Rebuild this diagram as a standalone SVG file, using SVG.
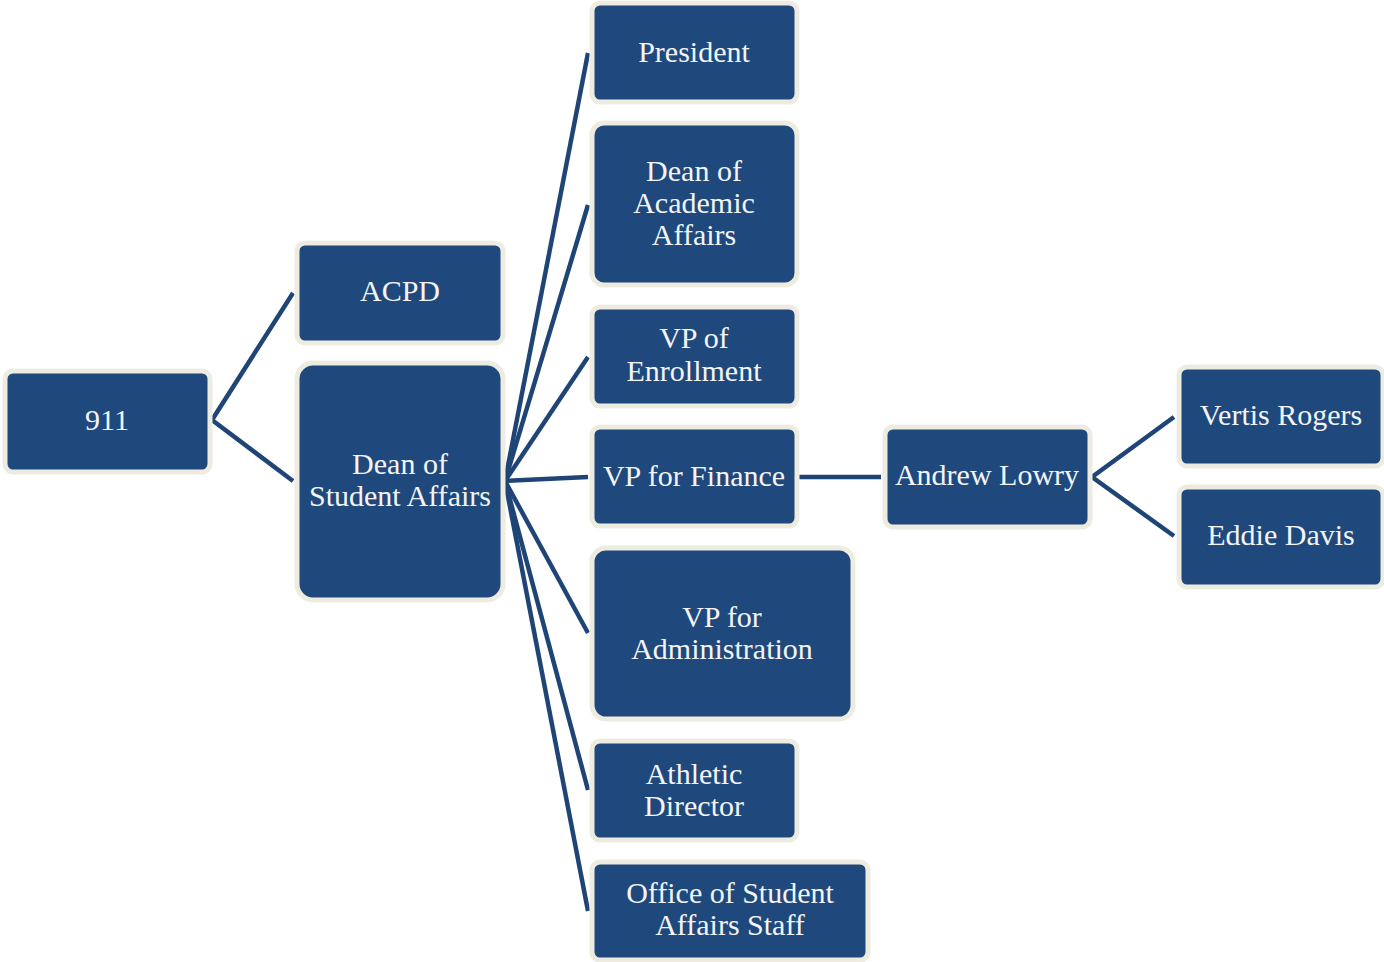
<svg xmlns="http://www.w3.org/2000/svg" width="1384" height="962" viewBox="0 0 1384 962">
<style>
.box{fill:#1f497d;stroke:#eeece1;stroke-width:5}
.t{font-family:"Liberation Serif","Times New Roman",serif;font-size:30px;fill:#f4f4f4;text-anchor:middle}
.c{stroke:#1f4476;stroke-width:4.5;fill:none;stroke-linecap:butt}
</style>
<rect width="1384" height="962" fill="#ffffff"/>
<g id="connectors">
<polyline class="c" points="293,293 212,420 293,481"/>
<line class="c" x1="505" y1="481" x2="588" y2="53"/>
<line class="c" x1="505" y1="481" x2="588" y2="205"/>
<line class="c" x1="505" y1="481" x2="588" y2="357"/>
<line class="c" x1="505" y1="481" x2="588" y2="477"/>
<line class="c" x1="505" y1="481" x2="588" y2="633"/>
<line class="c" x1="505" y1="481" x2="588" y2="790"/>
<line class="c" x1="505" y1="481" x2="588" y2="911"/>
<line class="c" x1="799" y1="477" x2="881" y2="477"/>
<polyline class="c" points="1174,417 1092,477 1174,536"/>
</g>
<g id="n911"><rect class="box" x="5" y="371" width="205" height="101" rx="8"/><text class="t" x="107" y="430">911</text></g>
<g id="acpd"><rect class="box" x="297" y="243" width="206" height="100" rx="8"/><text class="t" x="400" y="301">ACPD</text></g>
<g id="dsa"><rect class="box" x="297" y="363" width="206" height="237" rx="16"/><text class="t" x="400" y="474">Dean of</text><text class="t" x="400" y="506">Student Affairs</text></g>
<g id="president"><rect class="box" x="592" y="3" width="205" height="99" rx="8"/><text class="t" x="694" y="62">President</text></g>
<g id="daa"><rect class="box" x="592" y="123" width="205" height="162" rx="12"/><text class="t" x="694" y="181">Dean of</text><text class="t" x="694" y="213">Academic</text><text class="t" x="694" y="245">Affairs</text></g>
<g id="vpe"><rect class="box" x="592" y="307" width="205" height="99" rx="8"/><text class="t" x="694" y="348">VP of</text><text class="t" x="694" y="381">Enrollment</text></g>
<g id="vpf"><rect class="box" x="592" y="427" width="205" height="99" rx="8"/><text class="t" x="694" y="486">VP for Finance</text></g>
<g id="vpa"><rect class="box" x="592" y="548" width="261" height="171" rx="14"/><text class="t" x="722" y="627">VP for</text><text class="t" x="722" y="659">Administration</text></g>
<g id="ad"><rect class="box" x="592" y="741" width="205" height="99" rx="8"/><text class="t" x="694" y="784">Athletic</text><text class="t" x="694" y="816">Director</text></g>
<g id="osas"><rect class="box" x="592" y="862" width="276" height="98" rx="8"/><text class="t" x="730" y="903">Office of Student</text><text class="t" x="730" y="935">Affairs Staff</text></g>
<g id="lowry"><rect class="box" x="885" y="427" width="205" height="100" rx="8"/><text class="t" x="987" y="485">Andrew Lowry</text></g>
<g id="rogers"><rect class="box" x="1179" y="367" width="204" height="99" rx="8"/><text class="t" x="1281" y="425">Vertis Rogers</text></g>
<g id="davis"><rect class="box" x="1179" y="487" width="204" height="100" rx="8"/><text class="t" x="1281" y="545">Eddie Davis</text></g>
</svg>
